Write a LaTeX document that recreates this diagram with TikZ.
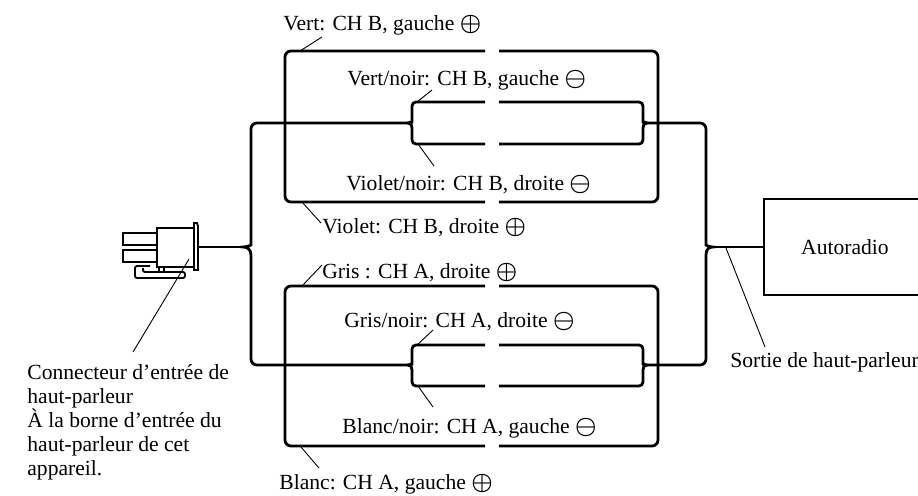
\documentclass[tikz,border=0pt]{standalone}
\usepackage{fontspec}
\setmainfont{Liberation Serif}
\usepackage{tikz}
\newcommand{\Pos}{{\fontsize{12.5}{12}\selectfont\boldmath$\oplus$}}
\newcommand{\Neg}{{\fontsize{12.5}{12}\selectfont\boldmath$\ominus$}}
\tikzset{
  wire/.style={line width=1.4pt},
  plugline/.style={line width=0.9pt},
  leader/.style={line width=0.45pt},
  wirelabel/.style={inner sep=0pt,anchor=base west}
}

\begin{document}
\begin{tikzpicture}[x=0.5pt,y=-0.5pt,font=\fontsize{10.8}{12}\selectfont]
  \useasboundingbox (0,0) rectangle (918,495);
  % junctions
  \coordinate (plug) at (198,247);
  \coordinate (jl) at (243,247);
  \coordinate (jr) at (713,247);
  % connector
  \draw[plugline] (123,233) rectangle (157,245);
  \draw[plugline] (123,250) rectangle (157,262);
  \draw[plugline] (157,228) rectangle (194,267);
  \draw[plugline] (194,223) -- (197,223) -- (198,226) -- (198,270) -- (194,270) -- cycle;
  \draw[plugline,rounded corners=1pt] (150,266) -- (135,266) -- (135,278) -- (185,278) -- (185,272) -- (143,272) -- (143,268);
  \draw[plugline] (159,267) -- (159,272) (164,267) -- (164,272);
  \draw[wire] (plug) -- (jl);
  % CH B
  \draw[wire,rounded corners=3pt] (485,51) -- (285,51) -- (285,202) -- (485,202);
  \draw[wire,rounded corners=3pt] (499,51) -- (658,51) -- (658,202) -- (499,202);
  \draw[wire] (485,102) [rounded corners=2pt] -- (412,102) -- (412,118) [sharp corners] .. controls (412,121) and (411,123) .. (408,123) .. controls (411,123) and (412,125) .. (412,128) [rounded corners=2pt] -- (412,144) -- (485,144);
  \draw[wire] (499,102) [rounded corners=2pt] -- (643,102) -- (643,118) [sharp corners] .. controls (643,121) and (644,123) .. (647,123) .. controls (644,123) and (643,125) .. (643,128) [rounded corners=2pt] -- (643,144) -- (499,144);
  % CH A
  \draw[wire,rounded corners=3pt] (485,286) -- (285,286) -- (285,446) -- (485,446);
  \draw[wire,rounded corners=3pt] (499,286) -- (658,286) -- (658,446) -- (499,446);
  \draw[wire] (485,345) [rounded corners=2pt] -- (412,345) -- (412,360) [sharp corners] .. controls (412,363) and (411,365) .. (408,365) .. controls (411,365) and (412,367) .. (412,370) [rounded corners=2pt] -- (412,386) -- (485,386);
  \draw[wire] (499,345) [rounded corners=2pt] -- (643,345) -- (643,360) [sharp corners] .. controls (643,363) and (644,365) .. (647,365) .. controls (644,365) and (643,367) .. (643,370) [rounded corners=2pt] -- (643,386) -- (499,386);
  % trunks
  \draw[wire] (408,123) [rounded corners=3pt] -- (251,123) -- (251,239) [sharp corners] .. controls (251,245) and (247,247) .. (jl) .. controls (247,247) and (251,249) .. (251,255) [rounded corners=3pt] -- (251,365) -- (408,365);
  \draw[wire] (647,123) [rounded corners=3pt] -- (706,123) -- (706,239) [sharp corners] .. controls (706,245) and (709,247) .. (jr) .. controls (709,247) and (706,249) .. (706,255) [rounded corners=3pt] -- (706,365) -- (647,365);
  % head unit
  \node[draw,line width=1pt,minimum width=81pt,minimum height=48pt] (radio) at (845,247) {Autoradio};
  \draw[wire] (jr) -- (radio.west);

  % labels
  \node[wirelabel] (vertp) at (283,30) {Vert: CH B, gauche \Pos};
  \node[wirelabel] (vertn) at (347,85) {Vert/noir: CH B, gauche \Neg};
  \node[wirelabel] (violn) at (346,190) {Violet/noir: CH B, droite \Neg};
  \node[wirelabel] (violp) at (322,233) {Violet: CH B, droite \Pos};
  \node[wirelabel] (grisp) at (322,278) {Gris : CH A, droite \Pos};
  \node[wirelabel] (grisn) at (344,327) {Gris/noir: CH A, droite \Neg};
  \node[wirelabel] (blancn) at (342,433) {Blanc/noir: CH A, gauche \Neg};
  \node[wirelabel] (blancp) at (279,489) {Blanc: CH A, gauche \Pos};
  \node[wirelabel,anchor=north west,align=left] (plugtxt) at (27,364)
    {Connecteur d’entrée de\\haut-parleur\\À la borne d’entrée du\\haut-parleur de cet\\appareil.};
  \node[wirelabel] (outtxt) at (730,367) {Sortie de haut-parleur};

  % leader taps
  \coordinate (vertp-tap) at (300,51);
  \coordinate (vertn-tap) at (417,102);
  \coordinate (violn-tap) at (418,144);
  \coordinate (violp-tap) at (302,202);
  \coordinate (grisp-tap) at (302,286);
  \coordinate (grisn-tap) at (417,345);
  \coordinate (blancn-tap) at (418,386);
  \coordinate (blancp-tap) at (301,447);
  \coordinate (plug-tap) at (189,259);
  \coordinate (out-tap) at (726,248);
  \path[leader]
    (vertp-tap) edge ([shift={(39,7)}]vertp.base west)
    (vertn-tap) edge ([shift={(85,5)}]vertn.base west)
    (violn-tap) edge ([shift={(88,-24)}]violn.base west)
    (violp-tap) edge ([shift={(-1,-10)}]violp.base west)
    (grisp-tap) edge ([shift={(0,-13)}]grisp.base west)
    (grisn-tap) edge ([shift={(89,3)}]grisn.base west)
    (blancn-tap) edge ([shift={(91,-26)}]blancn.base west)
    (blancp-tap) edge ([shift={(40,-21)}]blancp.base west)
    (plug-tap) edge ([shift={(106,-12)}]plugtxt.north west)
    (out-tap) edge ([shift={(35,-20)}]outtxt.base west);
\end{tikzpicture}
\end{document}
